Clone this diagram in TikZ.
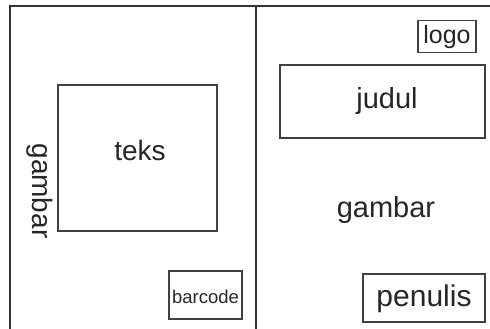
\documentclass[tikz,border=0pt]{standalone}
\usepackage{fontspec}
\setmainfont{Liberation Sans}
\begin{document}
\begin{tikzpicture}[x=1pt,y=-1pt,
  frame/.style={draw=black!80,line width=1.4pt},
  box/.style={draw=black!75,line width=1.3pt,inner sep=0pt},
  lbl/.style={text=black!85,inner sep=0pt}]
\useasboundingbox (0,0) rectangle (490,329);
% frame
\coordinate (tl) at (10,6);
\coordinate (bl) at (10,329);
\coordinate (tr) at (490,6);
\coordinate (mt) at (256,6);
\coordinate (mb) at (256,329);
\draw[frame] (bl) -- (tl) -- (tr);
\draw[frame] (mt) -- (mb);
% boxes
\node[box,minimum width=159pt,minimum height=146pt] (teksbox) at (137.5,158) {};
\node[box,minimum width=73pt,minimum height=48pt] (barcodebox) at (205.5,295) {};
\node[box,minimum width=58pt,minimum height=32pt] (logobox) at (447,36.5) {};
\node[box,minimum width=205pt,minimum height=73pt] (judulbox) at (382.5,101.5) {};
\node[box,minimum width=122pt,minimum height=48pt] (penulisbox) at (424,298) {};
% labels
\node[lbl,font=\fontsize{28}{30}\selectfont] (teks) at (140,150) {teks};
\node[lbl,font=\fontsize{28}{30}\selectfont,rotate=-90] (gambarL) at (40,191) {gambar};
\node[lbl,font=\fontsize{18.5}{20}\selectfont] (barcode) at (205.5,297) {barcode};
\node[lbl,font=\fontsize{25}{27}\selectfont] (logo) at (447,37) {logo};
\node[lbl,font=\fontsize{29}{31}\selectfont] (judul) at (387,101) {judul};
\node[lbl,font=\fontsize{29}{31}\selectfont] (gambarR) at (386,210) {gambar};
\node[lbl,font=\fontsize{30}{32}\selectfont] (penulis) at (424,299) {penulis};
\end{tikzpicture}
\end{document}
